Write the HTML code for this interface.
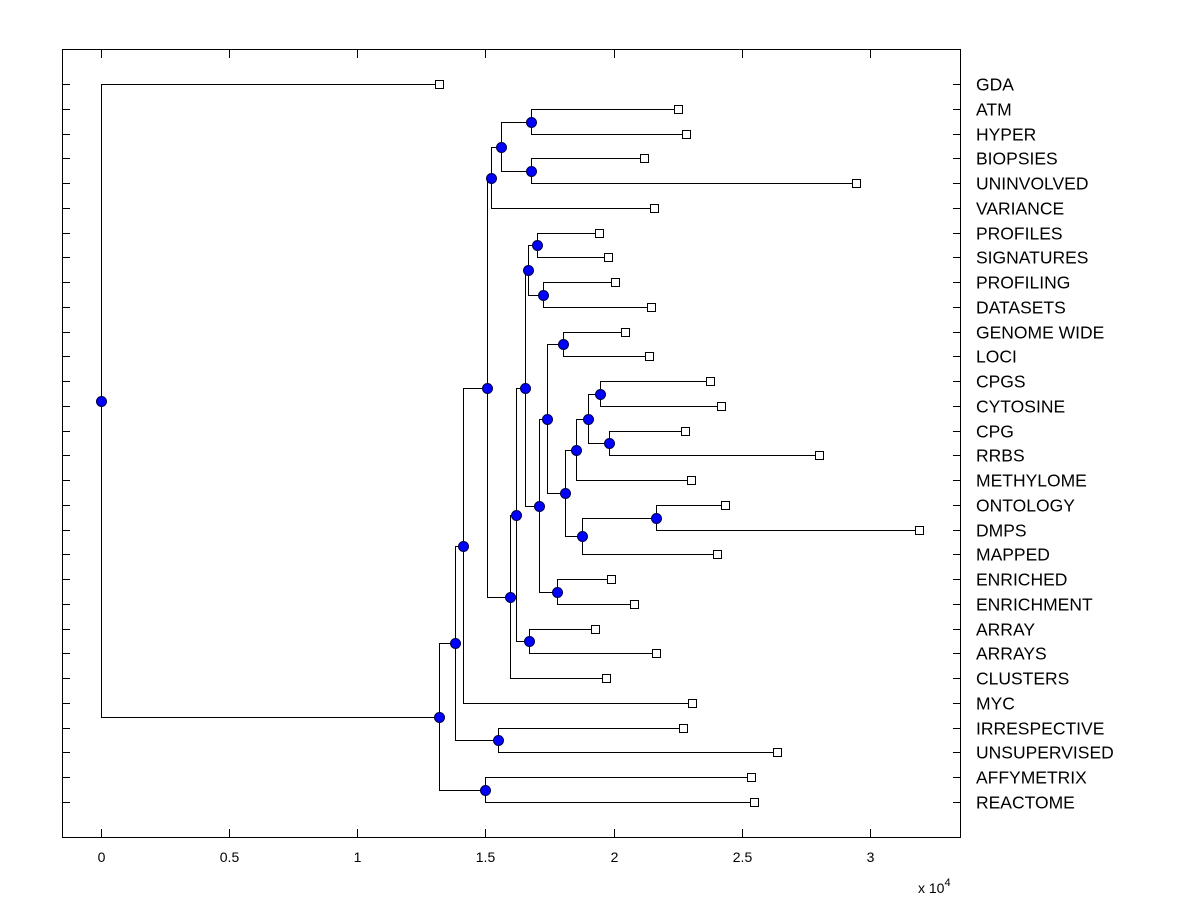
<!DOCTYPE html>
<html><head><meta charset="utf-8"><style>
html,body{margin:0;padding:0;background:#fff;}
svg{display:block;font-family:"Liberation Sans",Arial,sans-serif;}
</style></head><body>
<svg id="chart" width="1200" height="900" viewBox="0 0 1200 900" xmlns="http://www.w3.org/2000/svg">
<rect x="0" y="0" width="1200" height="900" fill="#fff"/>
<g id="links" shape-rendering="crispEdges"></g>
<g id="marks"></g>
<rect x="62.5" y="49.5" width="898" height="788" fill="none" stroke="#000" stroke-width="1" shape-rendering="crispEdges"/>
<g id="axes"></g>
<text x="918" y="893" font-size="14">x 10<tspan dy="-7" font-size="11">4</tspan></text>
</svg>
<script>
const leafNames = ["GDA","ATM","HYPER","BIOPSIES","UNINVOLVED","VARIANCE","PROFILES","SIGNATURES","PROFILING","DATASETS","GENOME WIDE","LOCI","CPGS","CYTOSINE","CPG","RRBS","METHYLOME","ONTOLOGY","DMPS","MAPPED","ENRICHED","ENRICHMENT","ARRAY","ARRAYS","CLUSTERS","MYC","IRRESPECTIVE","UNSUPERVISED","AFFYMETRIX","REACTOME"];
const leafValues = [1.319,2.251,2.283,2.119,2.946,2.158,1.943,1.978,2.005,2.146,2.044,2.138,2.376,2.419,2.279,2.801,2.302,2.435,3.192,2.403,1.990,2.080,1.927,2.165,1.970,2.306,2.271,2.638,2.536,2.548];
const nodeLeft  = [1,3,30,32,6,8,34,10,12,14,38,40,17,42,41,37,20,45,36,22,48,50,33,52,26,53,28,55,0];
const nodeRight = [2,4,31,5,7,9,35,11,13,15,39,16,18,19,43,44,21,46,47,23,49,24,51,25,27,54,29,56,57];
const nodeHeights = [1.678,1.678,1.561,1.522,1.701,1.725,1.666,1.803,1.947,1.982,1.900,1.853,2.165,1.877,1.810,1.740,1.779,1.709,1.654,1.670,1.619,1.596,1.506,1.412,1.549,1.381,1.498,1.319,0];
const xTicks = [0,0.5,1,1.5,2,2.5,3];
const xTickLabels = ["0","0.5","1","1.5","2","2.5","3"];

const NS="http://www.w3.org/2000/svg";
function xScale(v){return Math.round(101+v*256.3)+0.5;}
function rowY(i){return Math.round(84+i*(802-84)/29)+0.5;}
function mk(tag,attrs,parent){const e=document.createElementNS(NS,tag);for(const k in attrs)e.setAttribute(k,attrs[k]);parent.appendChild(e);return e;}
const links=document.getElementById('links'),marks=document.getElementById('marks'),axes=document.getElementById('axes');
const nL=leafNames.length;
const pos=[];
for(let i=0;i<nL;i++)pos.push({x:xScale(leafValues[i]),y:rowY(i)});
for(let j=0;j<nodeHeights.length;j++){
  const a=pos[nodeLeft[j]],b=pos[nodeRight[j]];
  pos.push({x:xScale(nodeHeights[j]),y:Math.floor((a.y+b.y)/2)+0.5});
}
for(let j=0;j<nodeHeights.length;j++){
  const p=pos[nL+j],a=pos[nodeLeft[j]],b=pos[nodeRight[j]];
  const path=mk('path',{d:`M${a.x},${a.y}H${p.x}V${b.y}H${b.x}`,fill:'none',stroke:'#000','stroke-width':1},links);
  
  
}
for(let i=0;i<nL;i++){
  const p=pos[i];
  const r=mk('rect',{x:p.x-4,y:p.y-4,width:8,height:8,fill:'#fff',stroke:'#000','stroke-width':1,'shape-rendering':'crispEdges'},marks);
  
  
  const t=mk('text',{x:976,y:p.y+6,'font-size':17.5,fill:'#000'},axes);
  t.textContent=leafNames[i];
  
  
  const tl=mk('path',{d:`M62,${p.y}H70M961,${p.y}H953`,stroke:'#000','stroke-width':1,'shape-rendering':'crispEdges'},axes);
  
  
}
for(let j=0;j<nodeHeights.length;j++){
  const p=pos[nL+j];
  const c=mk('circle',{cx:p.x,cy:p.y,r:5,fill:'#0000ff',stroke:'#00004a','stroke-width':1},marks);
  
  
}
for(let k=0;k<xTicks.length;k++){
  const x=xScale(xTicks[k]);
  const tk=mk('path',{d:`M${x},837V829M${x},50V58`,stroke:'#000','stroke-width':1,'shape-rendering':'crispEdges'},axes);
  
  
  const t=mk('text',{x:x,y:862,'font-size':14,'text-anchor':'middle'},axes);
  t.textContent=xTickLabels[k];
  
  
}
</script>
</body></html>
